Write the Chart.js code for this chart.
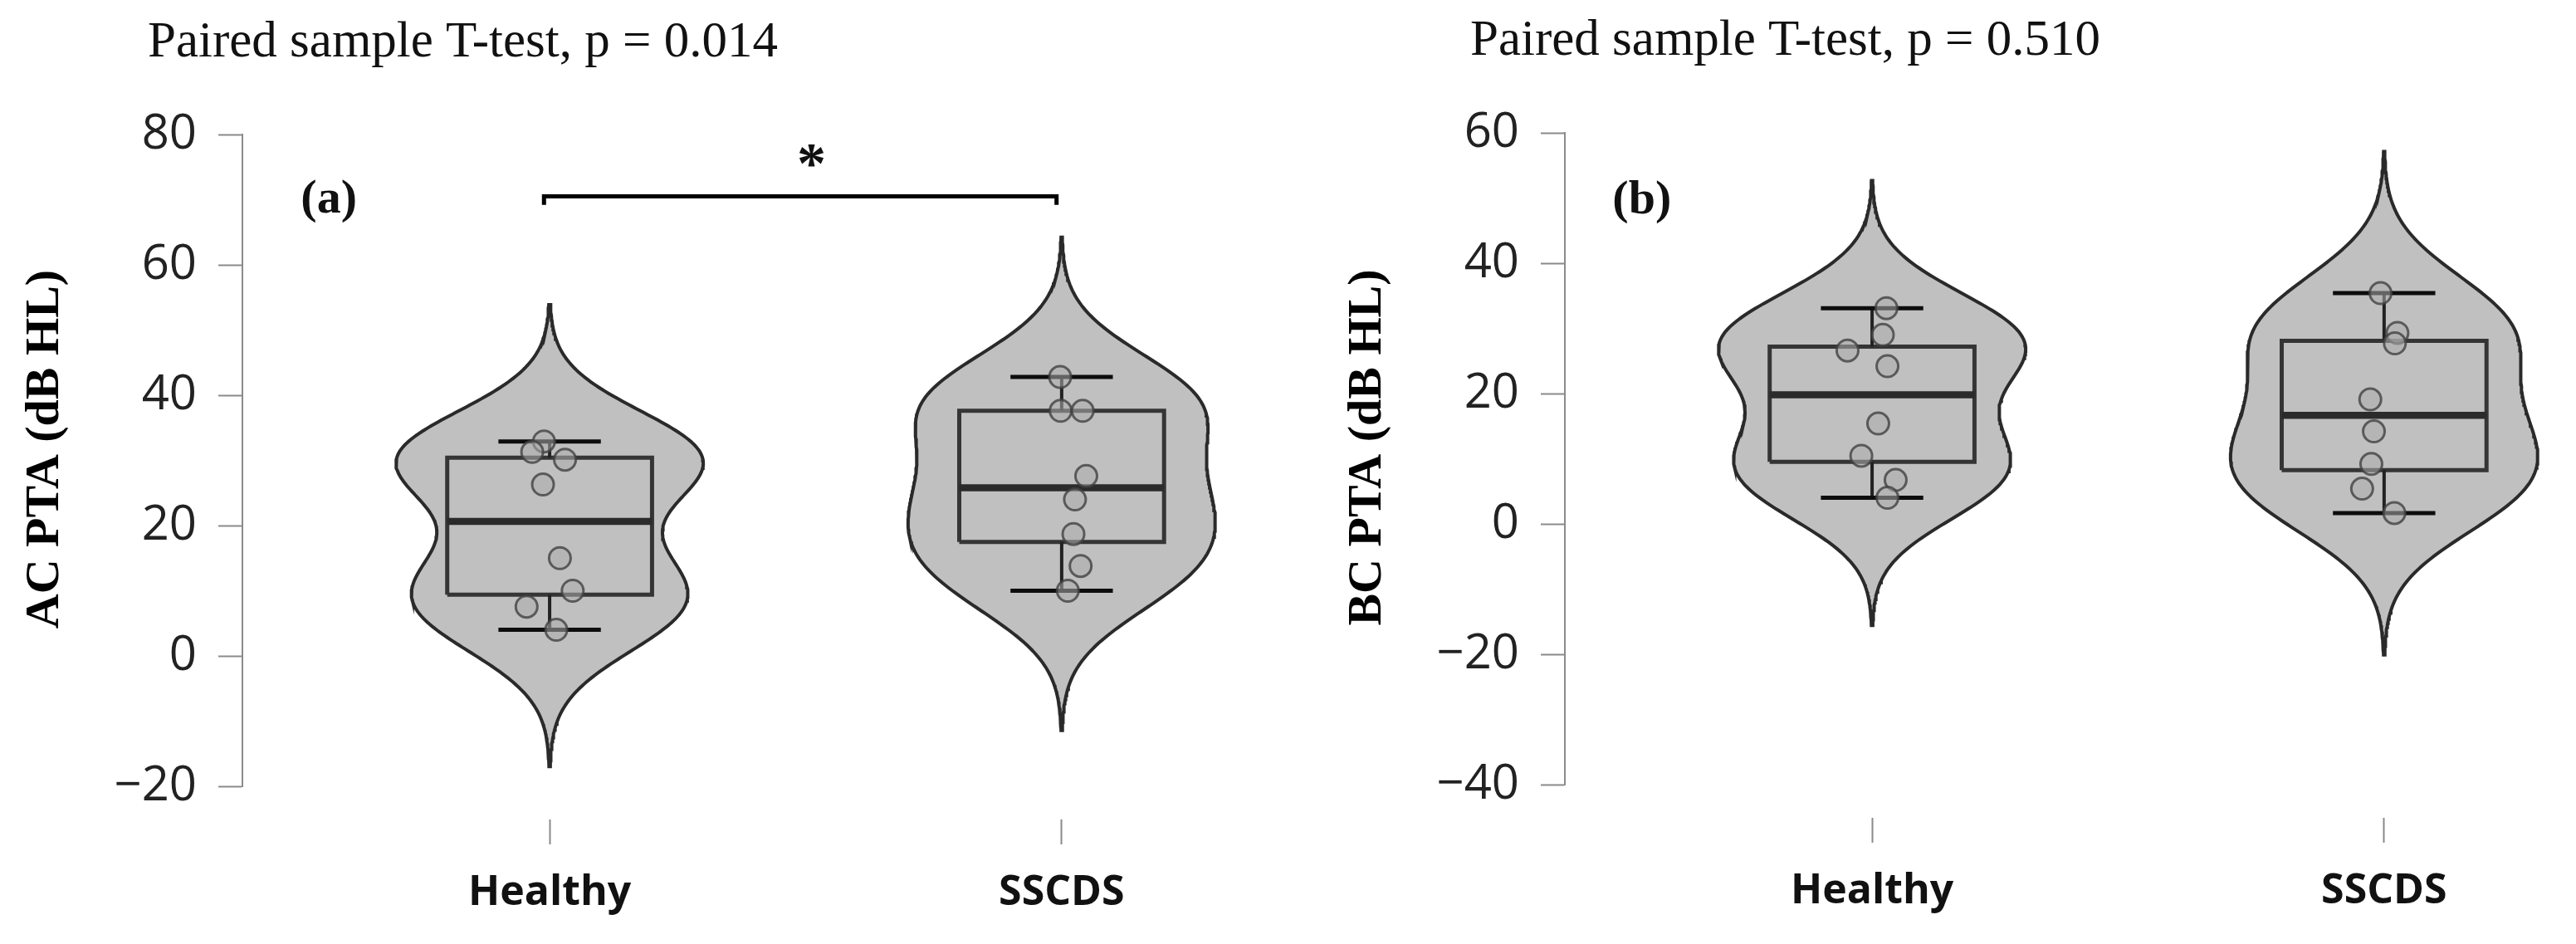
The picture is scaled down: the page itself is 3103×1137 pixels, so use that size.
<!DOCTYPE html>
<html>
<head>
<meta charset="utf-8">
<script src="https://cdn.jsdelivr.net/npm/chart.js@4.4.0/dist/chart.umd.min.js"></script>
<style>
  html, body { margin: 0; padding: 0; background: #ffffff; width: 3103px; height: 1137px; overflow: hidden; }
  canvas { position: absolute; }
  #chartA { left: 0px; top: 0px; }
  #chartB { left: 1593px; top: -2px; }
</style>
</head>
<body>
<canvas id="chartA" width="1510" height="1137"></canvas>
<canvas id="chartB" width="1510" height="1137"></canvas>
<script>
// ---------------- data ----------------
const categories = ['Healthy', 'SSCDS'];

// Panel (a) – air conduction PTA (dB HL)
const acHealthy = [32.9, 31.3, 30.1, 26.3, 15.0, 10.0, 7.55, 4.0];
const acSSCDS   = [42.8, 37.6, 37.6, 27.6, 24.0, 18.7, 13.8, 10.0];
const acHealthyJitter = [-0.011, -0.034, 0.030, -0.013, 0.020, 0.045, -0.045, 0.013];
const acSSCDSJitter   = [-0.003, -0.002, 0.041, 0.048, 0.026, 0.023, 0.037, 0.012];

// Panel (b) – bone conduction PTA (dB HL)
const bcHealthy = [33.1, 29.0, 26.6, 24.2, 15.4, 10.45, 6.75, 4.0];
const bcSSCDS   = [35.4, 29.3, 27.7, 19.1, 14.2, 9.2, 5.4, 1.66];
const bcHealthyJitter = [0.028, 0.021, -0.048, 0.030, 0.012, -0.021, 0.046, 0.030];
const bcSSCDSJitter   = [-0.007, 0.026, 0.021, -0.027, -0.020, -0.025, -0.043, 0.020];

const acTicks = [-20, 0, 20, 40, 60, 80];
const bcTicks = [-40, -20, 0, 20, 40, 60];

const acTitle = 'Paired sample T-test, p = 0.014';
const bcTitle = 'Paired sample T-test, p = 0.510';
const acAxisTitle = 'AC PTA (dB HL)';
const bcAxisTitle = 'BC PTA (dB HL)';
const panelLabels = ['(a)', '(b)'];
const sigLabel = '*';
const sigBracketX = [0.989, 1.99];     // category positions of bracket ends
const sigBracketY = [69.2, 70.5];      // bracket leg end, bracket bar level (dB HL)

// ---------------- statistics (derived from the points) ----------------
function sortAsc(v) { return [...v].sort((a, b) => a - b); }
function quantile(s, p) {
  const pos = (s.length - 1) * p, lo = Math.floor(pos), hi = Math.ceil(pos);
  return s[lo] + (s[hi] - s[lo]) * (pos - lo);
}
function boxStats(v) {
  const s = sortAsc(v);
  return { min: s[0], q1: quantile(s, 0.25), med: quantile(s, 0.5), q3: quantile(s, 0.75), max: s[s.length - 1] };
}
const VIOLIN_HALF = 0.30, BOX_HALF = 0.20, CAP_HALF = 0.10;
function violinOutline(values, center) {
  const n = values.length, s = sortAsc(values);
  const mean = values.reduce((a, b) => a + b, 0) / n;
  const sd = Math.sqrt(values.reduce((a, b) => a + (b - mean) * (b - mean), 0) / (n - 1));
  const iqr = quantile(s, 0.75) - quantile(s, 0.25);
  const bw = 0.9 * Math.min(sd, iqr / 1.34) * Math.pow(n, -0.2);
  const lo = s[0] - 3 * bw, hi = s[n - 1] + 3 * bw, N = 240;
  const ys = [], ds = [];
  for (let i = 0; i <= N; i++) {
    const y = lo + (hi - lo) * i / N;
    let d = 0;
    for (const v of values) { const z = (y - v) / bw; d += Math.exp(-0.5 * z * z); }
    ys.push(y); ds.push(d);
  }
  const dmax = Math.max(...ds);
  const right = ys.map((y, i) => ({ x: center + VIOLIN_HALF * ds[i] / dmax, y }));
  const left = ys.map((y, i) => ({ x: center - VIOLIN_HALF * ds[i] / dmax, y })).reverse();
  return right.concat(left, [right[0]]);
}

function buildDatasets(groups, jitters, withBracket) {
  const out = [];
  groups.forEach((vals, i) => {
    const c = i + 1, st = boxStats(vals);
    out.push({ label: 'violin ' + categories[i], data: violinOutline(vals, c), showLine: true, fill: 'shape',
      backgroundColor: '#c0c0c0', borderColor: '#2a2a2a', borderWidth: 4, pointRadius: 0, order: 6, clip: false });
    out.push({ label: 'box ' + categories[i], data: [
        { x: c - BOX_HALF, y: st.q1 }, { x: c + BOX_HALF, y: st.q1 }, { x: c + BOX_HALF, y: st.q3 },
        { x: c - BOX_HALF, y: st.q3 }, { x: c - BOX_HALF, y: st.q1 }],
      showLine: true, fill: false, borderColor: '#353535', borderWidth: 5, borderJoinStyle: 'miter', pointRadius: 0, order: 5 });
    out.push({ label: 'whisker hi ' + categories[i], data: [{ x: c, y: st.q3 }, { x: c, y: st.max }],
      showLine: true, borderColor: '#222222', borderWidth: 4, pointRadius: 0, order: 4 });
    out.push({ label: 'whisker lo ' + categories[i], data: [{ x: c, y: st.q1 }, { x: c, y: st.min }],
      showLine: true, borderColor: '#222222', borderWidth: 4, pointRadius: 0, order: 4 });
    out.push({ label: 'cap hi ' + categories[i], data: [{ x: c - CAP_HALF, y: st.max }, { x: c + CAP_HALF, y: st.max }],
      showLine: true, borderColor: '#0d0d0d', borderWidth: 5, pointRadius: 0, order: 3 });
    out.push({ label: 'cap lo ' + categories[i], data: [{ x: c - CAP_HALF, y: st.min }, { x: c + CAP_HALF, y: st.min }],
      showLine: true, borderColor: '#0d0d0d', borderWidth: 5, pointRadius: 0, order: 3 });
    out.push({ label: 'median ' + categories[i], data: [{ x: c - BOX_HALF, y: st.med }, { x: c + BOX_HALF, y: st.med }],
      showLine: true, borderColor: '#2b2b2b', borderWidth: 8.5, pointRadius: 0, order: 2 });
    out.push({ label: 'points ' + categories[i], data: vals.map((v, k) => ({ x: c + jitters[i][k], y: v })),
      showLine: false, pointRadius: 13, pointBackgroundColor: 'rgba(172,172,172,0.55)',
      pointBorderColor: 'rgba(65,65,65,0.8)', pointBorderWidth: 3, order: 1, clip: false });
  });
  if (withBracket) {
    out.push({ label: 'significance', data: [
        { x: sigBracketX[0], y: sigBracketY[0] }, { x: sigBracketX[0], y: sigBracketY[1] },
        { x: sigBracketX[1], y: sigBracketY[1] }, { x: sigBracketX[1], y: sigBracketY[0] }],
      showLine: true, borderColor: '#000000', borderWidth: 5, borderJoinStyle: 'miter', pointRadius: 0, order: 0, clip: false });
  }
  return out;
}

// ---------------- text plugin ----------------
const textPlugin = {
  id: 'panelText',
  afterDraw(chart, args, o) {
    const { ctx, scales: { x, y } } = chart;
    ctx.save();
    ctx.fillStyle = '#111111';
    // heading
    ctx.font = '61px "Liberation Serif"';
    ctx.textAlign = 'left'; ctx.textBaseline = 'alphabetic';
    ctx.fillText(o.title, 178, 68);
    // panel letter
    ctx.font = 'bold 58px "Liberation Serif"';
    ctx.textBaseline = 'middle';
    ctx.fillText(o.label, x.getPixelForValue(o.labelAt[0]), y.getPixelForValue(o.labelAt[1]));
    // significance star
    if (o.star) {
      ctx.font = 'bold 70px "Liberation Serif"';
      ctx.textAlign = 'center';
      ctx.fillText(o.star, x.getPixelForValue(o.starAt[0]), y.getPixelForValue(o.starAt[1]) + 12);
    }
    // y axis title
    ctx.translate(55, 541);
    ctx.rotate(-Math.PI / 2);
    ctx.font = 'bold 58px "Liberation Serif"';
    ctx.textAlign = 'center'; ctx.textBaseline = 'middle';
    ctx.fillStyle = '#000000';
    ctx.fillText(o.axisTitle, 0, 0);
    ctx.restore();
  }
};

function makeChart(id, groups, jitters, ticks, text, withBracket) {
  return new Chart(document.getElementById(id), {
    type: 'scatter',
    data: { datasets: buildDatasets(groups, jitters, withBracket) },
    plugins: [textPlugin],
    options: {
      responsive: false,
      animation: false,
      events: [],
      devicePixelRatio: 1,
      layout: { padding: { top: 162, left: 0, right: 0, bottom: 0 } },
      plugins: { legend: { display: false }, tooltip: { enabled: false }, title: { display: false }, panelText: text },
      scales: {
        x: {
          type: 'linear', position: 'bottom', min: 0.4, max: 2.3488,
          afterBuildTicks: s => { s.ticks = categories.map((c, i) => ({ value: i + 1 })); },
          afterFit: s => { s.height = 190; },
          grid: { drawOnChartArea: false, drawTicks: true, tickLength: 70, tickColor: '#8a8a8a', tickWidth: 2,
                  tickBorderDash: [0, 40, 30, 1000] },
          border: { display: false },
          ticks: { callback: v => categories[Math.round(v) - 1] || '', autoSkip: false, maxRotation: 0,
                   font: { family: '"Open Sans"', size: 50, weight: 'bold' }, color: '#111111', padding: 29 }
        },
        y: {
          type: 'linear', position: 'left', min: ticks[0], max: ticks[ticks.length - 1],
          afterBuildTicks: s => { s.ticks = ticks.map(v => ({ value: v })); },
          afterFit: s => { s.width = 292; },
          grid: { drawOnChartArea: false, drawTicks: true, tickLength: 29, tickColor: '#8a8a8a', tickWidth: 2 },
          border: { display: true, color: '#8a8a8a', width: 2 },
          ticks: { callback: v => (v < 0 ? '\u2212' + Math.abs(v) : String(v)),
                   font: { family: '"Open Sans"', size: 58 }, color: '#222222', padding: 26 }
        }
      }
    }
  });
}

makeChart('chartA', [acHealthy, acSSCDS], [acHealthyJitter, acSSCDSJitter], acTicks,
  { title: acTitle, axisTitle: acAxisTitle, label: panelLabels[0], labelAt: [0.514, 69.9], star: sigLabel, starAt: [1.5115, 76.5] }, true);
makeChart('chartB', [bcHealthy, bcSSCDS], [bcHealthyJitter, bcSSCDSJitter], bcTicks,
  { title: bcTitle, axisTitle: bcAxisTitle, label: panelLabels[1], labelAt: [0.493, 49.6], star: null }, false);
</script>
</body>
</html>
